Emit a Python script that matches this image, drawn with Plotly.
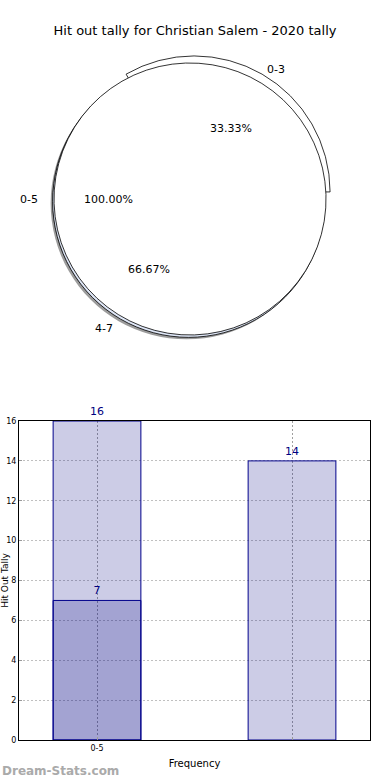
import math
import plotly.graph_objects as go

# ---------------- data ----------------
title_text = "Hit out tally for Christian Salem - 2020 tally"

pie_outer_labels = ["0-5"]
pie_outer_values = [16]

pie_inner_labels = ["0-3", "4-7"]
pie_inner_values = [7, 14]

bar_categories = ["0-5", ""]
bar_total = [16, 14]
bar_part = [7, None]

x_title = "Frequency"
y_title = "Hit Out Tally"
watermark = "Dream-Stats.com"

# ---------------- layout constants ----------------
W, H = 390, 780
FONT = "DejaVu Sans"
PCX, PCY, R = 190, 199, 136          # pie centre / radius in px
PULL = [0.06, 0.02]
ROT = -30                            # first slice spans 3 o'clock -> counter-clockwise


def dom(cx, cy, half):
    return dict(x=[(cx - half) / W, (cx + half) / W],
                y=[1 - (cy + half) / H, 1 - (cy - half) / H])


fig = go.Figure()

pull_half = R * (1 + max(PULL))

# shadows
fig.add_trace(go.Pie(labels=pie_inner_labels, values=pie_inner_values, pull=PULL,
                     sort=False, direction="counterclockwise", rotation=ROT,
                     domain=dom(PCX - 2, PCY + 2, pull_half), textinfo="none",
                     marker=dict(colors=["rgba(0,0,0,0)", "rgba(90,90,90,0.6)"], line=dict(width=0)),
                     hoverinfo="skip", showlegend=False))
fig.add_trace(go.Pie(labels=pie_outer_labels, values=pie_outer_values,
                     sort=False, direction="counterclockwise", rotation=ROT,
                     domain=dom(PCX - 2, PCY + 2, R), textinfo="none",
                     marker=dict(colors=["rgba(90,90,90,0.6)"], line=dict(width=0)),
                     hoverinfo="skip", showlegend=False))
# pulled pie
fig.add_trace(go.Pie(labels=pie_inner_labels, values=pie_inner_values, pull=PULL,
                     sort=False, direction="counterclockwise", rotation=ROT,
                     domain=dom(PCX, PCY, pull_half), textinfo="none",
                     marker=dict(colors=["white", "#dfe7f7"], line=dict(color="black", width=0.8)),
                     hoverinfo="skip", showlegend=False))
# full pie on top
fig.add_trace(go.Pie(labels=pie_outer_labels, values=pie_outer_values,
                     sort=False, direction="counterclockwise", rotation=ROT,
                     domain=dom(PCX, PCY, R), textinfo="none",
                     marker=dict(colors=["white"], line=dict(color="black", width=0.8)),
                     hoverinfo="skip", showlegend=False))


# pie text computed from the data (matplotlib-like placement)
def pie_texts(labels, values, start_deg=0.0):
    total = sum(values)
    cum = 0.0
    for lab, v in zip(labels, values):
        frac = v / total
        mid = math.radians(start_deg + 360 * (cum + frac / 2))
        cum += frac
        cx, sy = math.cos(mid), math.sin(mid)
        lx, ly = PCX + 1.1 * R * cx, PCY - 1.1 * R * sy
        fig.add_annotation(x=lx / W, y=1 - ly / H, xref="paper", yref="paper",
                           text=lab, showarrow=False,
                           xanchor="left" if cx > 0 else "right", yanchor="middle",
                           font=dict(family=FONT, size=11, color="black"))
        px, py = PCX + 0.6 * R * cx, PCY - 0.6 * R * sy
        fig.add_annotation(x=px / W, y=1 - py / H, xref="paper", yref="paper",
                           text=f"{100 * frac:.2f}%", showarrow=False,
                           xanchor="center", yanchor="middle",
                           font=dict(family=FONT, size=11, color="black"))


pie_texts(pie_inner_labels, pie_inner_values)
pie_texts(pie_outer_labels, pie_outer_values)

# ---------------- bars ----------------
xpos = list(range(len(bar_categories)))
fig.add_trace(go.Bar(x=xpos, y=bar_total, width=0.45,
                     marker=dict(color="rgba(0,0,128,0.2)", line=dict(color="#00008b", width=1)),
                     text=[str(v) for v in bar_total], textposition="outside",
                     textfont=dict(family=FONT, size=11, color="#000080"),
                     cliponaxis=False, hoverinfo="skip", showlegend=False))
fig.add_trace(go.Bar(x=xpos, y=bar_part, width=0.45,
                     marker=dict(color="rgba(0,0,128,0.2)", line=dict(color="#00008b", width=1)),
                     text=[str(v) if v is not None else "" for v in bar_part], textposition="outside",
                     textfont=dict(family=FONT, size=11, color="#000080"),
                     cliponaxis=False, hoverinfo="skip", showlegend=False))

fig.update_layout(
    width=W, height=H,
    margin=dict(l=0, r=0, t=0, b=0),
    paper_bgcolor="white", plot_bgcolor="white",
    barmode="overlay",
    font=dict(family=FONT, color="black"),
    title=dict(text=title_text, x=0.5, xanchor="center", y=1 - 30 / H, yanchor="middle",
               font=dict(family=FONT, size=13, color="black")),
    xaxis=dict(domain=[19 / W, 370 / W], range=[-0.4, 1.4], automargin=False,
               tickvals=xpos, ticktext=bar_categories,
               showline=True, linecolor="black", linewidth=1, mirror=True,
               ticks="inside", ticklen=3, tickcolor="#999999",
               showgrid=True, gridcolor="#a0a0a0", griddash="2px,2px", gridwidth=1,
               zeroline=False, tickfont=dict(family=FONT, size=8, color="black"),
               title=dict(text=x_title, font=dict(family=FONT, size=10, color="black"), standoff=8)),
    yaxis=dict(domain=[1 - 740 / H, 1 - 421 / H], range=[0, 16], dtick=2, automargin=False,
               showline=True, linecolor="black", linewidth=1, mirror="ticks",
               ticks="inside", ticklen=3, tickcolor="#999999",
               showgrid=True, gridcolor="#c0c0c0", griddash="2px,2px", gridwidth=1,
               zeroline=False, tickfont=dict(family=FONT, size=8, color="black"),
               title=dict(text=y_title, font=dict(family=FONT, size=9, color="black"), standoff=4)),
)

fig.add_annotation(x=0, y=0, xref="paper", yref="paper", xanchor="left", yanchor="bottom",
                   text=f"<b>{watermark}</b>", showarrow=False,
                   font=dict(family=FONT, size=12, color="#aaaaaa"))

fig.write_html("out.html", config={"displayModeBar": False},
               post_script="document.body.style.margin='0';document.body.style.overflow='hidden';")
